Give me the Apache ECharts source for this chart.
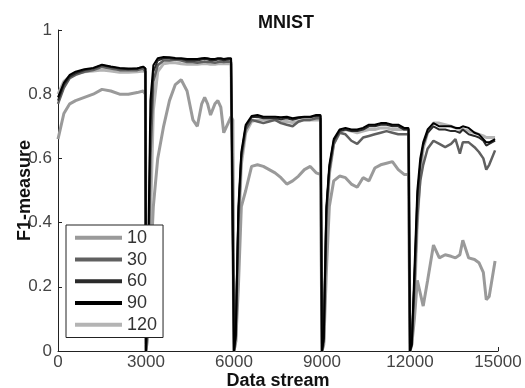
<!DOCTYPE html>
<html>
<head>
<meta charset="utf-8">
<script src="https://cdn.jsdelivr.net/npm/echarts@6/dist/echarts.min.js"></script>
<style>
html,body{margin:0;padding:0;background:#fff;}
#chart{width:525px;height:388px;}
</style>
</head>
<body>
<div id="chart"></div>
<script>
// Data stream positions (shared by all series), segment by segment
const xs = [
  0, 200, 400, 600, 900, 1200, 1500, 1800, 2100, 2400, 2700, 2900, 2980, 3000,
  3060, 3150, 3250, 3400, 3600, 3800, 4000, 4200, 4400, 4600, 4750, 4900, 5000, 5100, 5200, 5350, 5450, 5550, 5650, 5800, 5900, 5960, 6000,
  6060, 6150, 6250, 6400, 6600, 6800, 7000, 7200, 7400, 7600, 7800, 8000, 8200, 8400, 8600, 8800, 8950, 9000,
  9060, 9150, 9250, 9400, 9600, 9800, 10000, 10200, 10400, 10600, 10800, 11000, 11200, 11400, 11600, 11800, 11950, 12000,
  12060, 12150, 12250, 12350, 12450, 12600, 12800, 13000, 13200, 13400, 13550, 13700, 13800, 14000, 14200, 14350, 14500, 14600, 14700, 14900
];

const s10 = [
  0.66, 0.74, 0.77, 0.78, 0.79, 0.80, 0.815, 0.81, 0.80, 0.80, 0.805, 0.81, 0.80, 0,
  0.05, 0.25, 0.45, 0.60, 0.70, 0.78, 0.83, 0.845, 0.81, 0.72, 0.70, 0.77, 0.79, 0.77, 0.735, 0.77, 0.78, 0.76, 0.68, 0.71, 0.73, 0.72, 0,
  0.03, 0.2, 0.45, 0.50, 0.575, 0.58, 0.575, 0.565, 0.555, 0.54, 0.52, 0.53, 0.545, 0.565, 0.575, 0.555, 0.55, 0,
  0.02, 0.25, 0.45, 0.53, 0.545, 0.54, 0.52, 0.51, 0.54, 0.53, 0.57, 0.58, 0.585, 0.59, 0.565, 0.55, 0.55, 0,
  0.02, 0.10, 0.22, 0.18, 0.14, 0.22, 0.33, 0.29, 0.30, 0.295, 0.29, 0.30, 0.345, 0.29, 0.285, 0.275, 0.245, 0.16, 0.17, 0.28
];
const s30 = [
  0.77, 0.82, 0.85, 0.86, 0.87, 0.875, 0.885, 0.88, 0.875, 0.875, 0.875, 0.88, 0.87, 0,
  0.1, 0.6, 0.84, 0.89, 0.905, 0.905, 0.908, 0.905, 0.9, 0.9, 0.898, 0.9, 0.902, 0.9, 0.9, 0.898, 0.9, 0.902, 0.9, 0.902, 0.9, 0.9, 0,
  0.04, 0.4, 0.6, 0.69, 0.72, 0.715, 0.71, 0.715, 0.72, 0.71, 0.705, 0.70, 0.715, 0.72, 0.72, 0.725, 0.725, 0,
  0.03, 0.42, 0.56, 0.645, 0.68, 0.675, 0.655, 0.645, 0.665, 0.67, 0.675, 0.68, 0.685, 0.68, 0.675, 0.675, 0.675, 0,
  0.02, 0.2, 0.42, 0.53, 0.58, 0.63, 0.655, 0.645, 0.635, 0.645, 0.66, 0.615, 0.65, 0.65, 0.635, 0.62, 0.6, 0.565, 0.58, 0.625
];
const s60 = [
  0.78, 0.83, 0.855, 0.865, 0.875, 0.88, 0.89, 0.885, 0.88, 0.878, 0.88, 0.885, 0.88, 0,
  0.15, 0.7, 0.87, 0.905, 0.912, 0.912, 0.91, 0.91, 0.905, 0.905, 0.905, 0.908, 0.91, 0.908, 0.906, 0.906, 0.908, 0.908, 0.906, 0.908, 0.908, 0.908, 0,
  0.05, 0.43, 0.61, 0.70, 0.728, 0.73, 0.725, 0.725, 0.725, 0.722, 0.725, 0.72, 0.725, 0.728, 0.728, 0.732, 0.732, 0,
  0.04, 0.44, 0.57, 0.655, 0.685, 0.69, 0.685, 0.685, 0.69, 0.70, 0.70, 0.705, 0.705, 0.70, 0.70, 0.69, 0.69, 0,
  0.02, 0.22, 0.48, 0.58, 0.64, 0.68, 0.70, 0.69, 0.69, 0.685, 0.685, 0.68, 0.69, 0.675, 0.67, 0.665, 0.655, 0.64, 0.645, 0.655
];
const s90 = [
  0.79, 0.835, 0.86, 0.87, 0.878, 0.882, 0.892, 0.886, 0.882, 0.88, 0.88, 0.886, 0.88, 0,
  0.2, 0.78, 0.89, 0.912, 0.916, 0.915, 0.913, 0.912, 0.91, 0.91, 0.91, 0.912, 0.913, 0.912, 0.91, 0.91, 0.912, 0.912, 0.91, 0.912, 0.912, 0.91, 0,
  0.05, 0.45, 0.62, 0.705, 0.732, 0.735, 0.73, 0.73, 0.73, 0.728, 0.73, 0.725, 0.728, 0.73, 0.73, 0.735, 0.735, 0,
  0.04, 0.45, 0.58, 0.66, 0.69, 0.695, 0.69, 0.69, 0.695, 0.705, 0.705, 0.71, 0.71, 0.705, 0.705, 0.695, 0.695, 0,
  0.02, 0.25, 0.50, 0.60, 0.65, 0.69, 0.71, 0.70, 0.70, 0.70, 0.695, 0.695, 0.70, 0.695, 0.68, 0.675, 0.66, 0.65, 0.65, 0.66
];
const s120 = [
  0.80, 0.84, 0.855, 0.865, 0.87, 0.872, 0.875, 0.872, 0.868, 0.868, 0.87, 0.872, 0.87, 0,
  0.05, 0.4, 0.75, 0.87, 0.895, 0.898, 0.898, 0.895, 0.893, 0.893, 0.893, 0.895, 0.895, 0.895, 0.893, 0.893, 0.895, 0.895, 0.895, 0.895, 0.895, 0.895, 0,
  0.03, 0.35, 0.58, 0.68, 0.715, 0.72, 0.72, 0.718, 0.72, 0.715, 0.715, 0.712, 0.715, 0.72, 0.72, 0.72, 0.72, 0,
  0.03, 0.40, 0.55, 0.645, 0.68, 0.69, 0.685, 0.68, 0.685, 0.69, 0.69, 0.695, 0.695, 0.69, 0.69, 0.69, 0.69, 0,
  0.02, 0.15, 0.40, 0.55, 0.63, 0.68, 0.71, 0.71, 0.705, 0.70, 0.695, 0.69, 0.69, 0.685, 0.68, 0.675, 0.67, 0.665, 0.665, 0.665
];

const seriesNames = ['10', '30', '60', '90', '120'];
const seriesValues = [s10, s30, s60, s90, s120];
const xTicks = [0, 3000, 6000, 9000, 12000, 15000];
const yTicks = [0, 0.2, 0.4, 0.6, 0.8, 1];

const colors = {'10': '#9a9a9a', '30': '#606060', '60': '#2a2a2a', '90': '#000000', '120': '#b4b4b4'};
const widths = {'10': 3, '30': 2.5, '60': 2, '90': 2, '120': 3};
const zs = {'10': 3, '30': 4, '60': 5, '90': 6, '120': 2};

const chart = echarts.init(document.getElementById('chart'), null, {renderer: 'canvas'});
const font = 'Liberation Sans, Arial, sans-serif';

const series = seriesNames.map((name, i) => ({
  name: name,
  type: 'line',
  data: xs.map((x, j) => [x, seriesValues[i][j]]),
  showSymbol: false,
  symbol: 'none',
  z: zs[name],
  lineStyle: {color: colors[name], width: widths[name]},
  itemStyle: {color: colors[name]},
  animation: false
}));

chart.setOption({
  animation: false,
  backgroundColor: '#ffffff',
  title: {
    text: 'MNIST',
    left: 281,
    top: 9,
    textAlign: 'center',
    textStyle: {fontFamily: font, fontSize: 18, fontWeight: 'bold', color: '#111'}
  },
  grid: {left: 58, top: 30, right: 27, bottom: 37, containLabel: false, outerBoundsMode: 'none'},
  legend: {
    data: seriesNames,
    orient: 'vertical',
    left: 66,
    top: 225,
    z: 20,
    icon: 'rect',
    itemWidth: 47,
    itemHeight: 4,
    itemGap: 0,
    padding: [2, 6, 2, 9],
    borderColor: '#222',
    borderWidth: 1,
    backgroundColor: '#fff',
    textStyle: {fontFamily: font, fontSize: 18, color: '#333', lineHeight: 21.7}
  },
  xAxis: {
    type: 'value',
    min: xTicks[0],
    max: xTicks[xTicks.length - 1],
    interval: 3000,
    name: 'Data stream',
    nameLocation: 'middle',
    nameGap: 21,
    nameMoveOverlap: false,
    nameTextStyle: {fontFamily: font, fontSize: 18, fontWeight: 'bold', color: '#111'},
    axisLine: {show: true, lineStyle: {color: '#222', width: 1}},
    axisTick: {show: true, inside: true, length: 4, lineStyle: {color: '#222'}},
    axisLabel: {fontFamily: font, fontSize: 17, color: '#444', margin: 3, formatter: v => String(v)},
    splitLine: {show: false}
  },
  yAxis: {
    type: 'value',
    min: yTicks[0],
    max: yTicks[yTicks.length - 1],
    interval: 0.2,
    name: 'F1-measure',
    nameLocation: 'middle',
    nameGap: 24,
    nameMoveOverlap: false,
    nameRotate: 90,
    nameTextStyle: {fontFamily: font, fontSize: 18, fontWeight: 'bold', color: '#111'},
    axisLine: {show: true, lineStyle: {color: '#222', width: 1}},
    axisTick: {show: true, inside: true, length: 4, lineStyle: {color: '#222'}},
    axisLabel: {fontFamily: font, fontSize: 17, color: '#444', margin: 6, formatter: v => String(Math.round(v * 10) / 10)},
    splitLine: {show: false}
  },
  series: series
});
</script>
</body>
</html>
